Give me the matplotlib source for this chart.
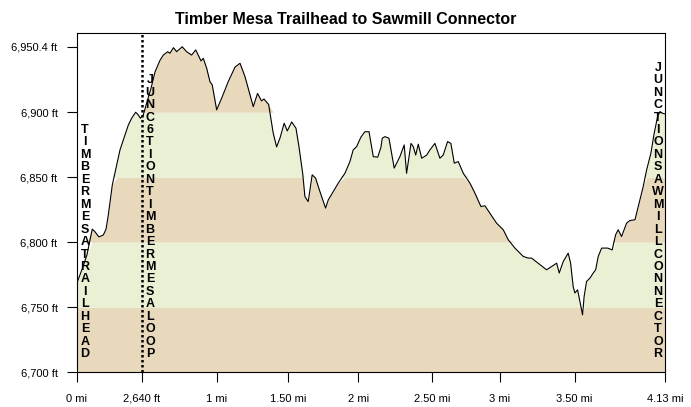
import numpy as np
import matplotlib
matplotlib.use('Agg')
import matplotlib.pyplot as plt
import matplotlib.transforms as mtransforms

plt.rcParams['font.family'] = ['Liberation Sans', 'DejaVu Sans']

## Data

dist_mi = [0.000, 0.042, 0.070, 0.107, 0.126, 0.154, 0.185, 0.204, 0.220, 0.248,
           0.279, 0.302, 0.337, 0.360, 0.384, 0.412, 0.430, 0.445, 0.466, 0.489,
           0.520, 0.548, 0.583, 0.606, 0.637, 0.653, 0.677, 0.700, 0.739, 0.770,
           0.805, 0.834, 0.857, 0.871, 0.887, 0.911, 0.934, 0.950, 0.981, 1.016,
           1.062, 1.110, 1.145, 1.180, 1.238, 1.268, 1.296, 1.313, 1.346, 1.378,
           1.402, 1.426, 1.455, 1.477, 1.508, 1.538, 1.559, 1.585, 1.601, 1.624,
           1.652, 1.676, 1.706, 1.746, 1.765, 1.800, 1.835, 1.882, 1.917, 1.940,
           1.964, 1.994, 2.022, 2.051, 2.081, 2.112, 2.135, 2.144, 2.163, 2.191,
           2.228, 2.268, 2.298, 2.315, 2.346, 2.362, 2.379, 2.397, 2.421, 2.456,
           2.479, 2.514, 2.549, 2.572, 2.603, 2.626, 2.650, 2.678, 2.713, 2.760,
           2.795, 2.837, 2.865, 2.900, 2.947, 2.994, 3.029, 3.076, 3.134, 3.169,
           3.193, 3.239, 3.298, 3.334, 3.369, 3.387, 3.415, 3.450, 3.467, 3.485,
           3.497, 3.516, 3.539, 3.551, 3.562, 3.579, 3.603, 3.626, 3.643, 3.661,
           3.685, 3.727, 3.759, 3.783, 3.801, 3.825, 3.860, 3.883, 3.919, 3.942,
           3.977, 4.001, 4.031, 4.054, 4.078, 4.094, 4.113, 4.130]

elev_ft = [6768.7, 6781.0, 6790.2, 6810.0, 6808.0, 6804.0, 6805.5, 6810.0, 6821.0, 6844.0,
           6859.5, 6871.0, 6882.5, 6890.0, 6895.4, 6900.0, 6898.0, 6895.4, 6898.0, 6907.0,
           6918.5, 6931.0, 6940.0, 6944.0, 6946.6, 6945.4, 6949.7, 6946.6, 6950.4, 6946.6,
           6944.0, 6948.0, 6942.8, 6939.5, 6941.5, 6933.8, 6923.5, 6921.0, 6901.8, 6910.8,
           6923.5, 6934.8, 6937.7, 6927.4, 6904.3, 6914.5, 6908.7, 6910.2, 6906.0, 6884.0,
           6873.3, 6880.2, 6891.5, 6885.6, 6892.5, 6887.7, 6873.5, 6853.0, 6835.0, 6831.2,
           6851.8, 6849.2, 6839.0, 6826.2, 6832.5, 6839.0, 6845.4, 6853.0, 6862.0, 6871.0,
           6873.5, 6880.8, 6885.0, 6885.0, 6865.8, 6865.4, 6873.0, 6880.0, 6881.2, 6880.0,
           6857.0, 6865.8, 6874.8, 6853.0, 6876.0, 6873.5, 6867.0, 6875.4, 6864.6, 6867.0,
           6871.0, 6876.0, 6864.6, 6867.0, 6877.4, 6876.0, 6860.8, 6862.0, 6853.0, 6845.4,
           6837.7, 6827.4, 6828.0, 6822.3, 6814.6, 6809.5, 6801.8, 6795.4, 6789.0, 6787.7,
           6787.7, 6783.8, 6778.7, 6781.2, 6783.8, 6776.2, 6785.0, 6791.5, 6783.8, 6765.8,
           6760.8, 6763.3, 6750.5, 6744.0, 6758.2, 6769.7, 6772.3, 6776.2, 6778.7, 6789.0,
           6795.4, 6795.4, 6794.0, 6805.6, 6809.5, 6804.3, 6814.6, 6816.6, 6817.2, 6827.4,
           6842.8, 6855.6, 6868.5, 6883.8, 6896.6, 6900.5, 6899.2, 6898.7]

# x ticks sit where the reference puts them
xtick_pos = [0, 0.456, 0.981, 1.483, 1.975, 2.495, 2.968, 3.495, 4.13]
xtick_labels = ['0 mi', '2,640 ft', '1 mi', '1.50 mi', '2 mi', '2.50 mi', '3 mi', '3.50 mi', '4.13 mi']

ytick_pos = [6700, 6750, 6800, 6850, 6900, 6950.4]
ytick_labels = ['6,700 ft', '6,750 ft', '6,800 ft', '6,850 ft', '6,900 ft', '6,950.4 ft']

band_edges = [6700, 6750, 6800, 6850, 6900, 6961]
band_colors = ['#E8D8BC', '#E9F0D3']

waypoint_mi = [0.0, 0.456, 4.13]
waypoint_names = ['TIMBER MESA TRAILHEAD', 'JUNC6TION TIMBER MESA LOOP', 'JUNCTION SAWMILL CONNECTOR']
waypoint_dx = [8, 8, -7]  # pixel offset of the label column from the waypoint

## Plot

x = np.array(dist_mi)
y = np.array(elev_ft)

fig = plt.figure(figsize=(6.91, 4.07), dpi=100)
ax = fig.add_axes([77 / 691., 35 / 407., 588 / 691., 339 / 407.])

for i in range(len(band_edges) - 1):
    lo, hi = band_edges[i], band_edges[i + 1]
    ax.fill_between(x, lo, np.clip(y, lo, hi), color=band_colors[i % 2], lw=0)

ax.plot(x, y, color='black', lw=0.8)

ax.axvline(waypoint_mi[1], color='black', lw=1.8, ls=(0, (1, 1)))

for wx, name, dx in zip(waypoint_mi, waypoint_names, waypoint_dx):
    trans = mtransforms.offset_copy(ax.get_xaxis_transform(), fig=fig, x=dx * 0.72, y=0, units='points')
    ax.text(wx, 0.035, '\n'.join(name.replace(' ', '')), transform=trans,
            ha='center', va='bottom', fontsize=9, fontweight='bold',
            linespacing=1.05, multialignment='center')

ax.set_xlim(0, 4.13)
ax.set_ylim(6700, 6961)
ax.set_xticks(xtick_pos)
ax.set_xticklabels(xtick_labels, fontsize=8)
ax.set_yticks(ytick_pos)
ax.set_yticklabels(ytick_labels, fontsize=8)
ax.tick_params(direction='out', length=7, width=0.8, pad=7)
ax.tick_params(axis='x', pad=8.5)
for s in ax.spines.values():
    s.set_linewidth(0.8)

fig.text(0.5, 1 - 20 / 407., 'Timber Mesa Trailhead to Sawmill Connector',
         ha='center', va='center', fontsize=11.5, fontweight='bold')

fig.savefig('out.png', dpi=100)
